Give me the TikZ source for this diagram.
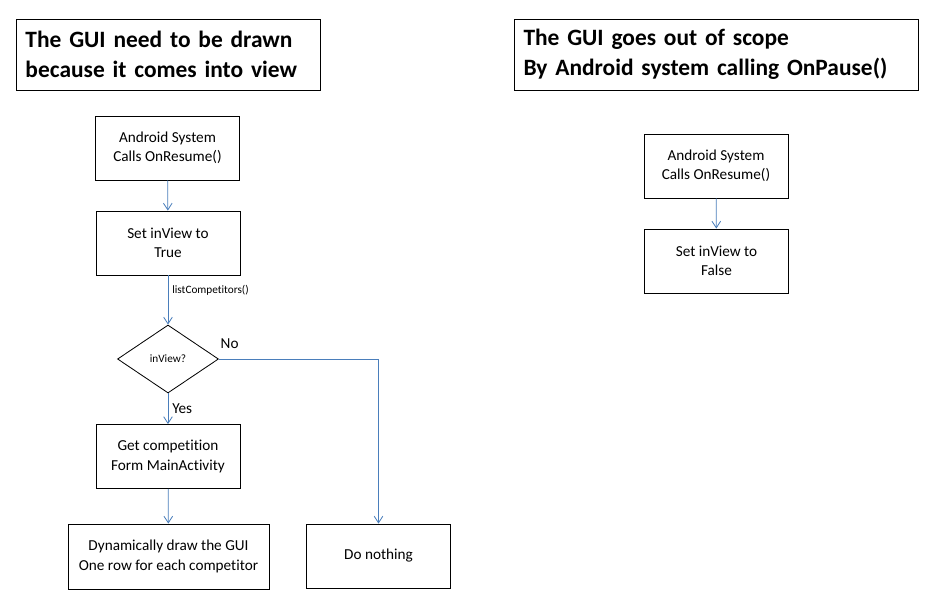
\documentclass[tikz,border=0pt]{standalone}
\usepackage{fontspec}
\setmainfont{Carlito}[Ligatures=NoCommon]
\usetikzlibrary{shapes.geometric,arrows.meta}
\definecolor{lineblue}{RGB}{74,126,187}

\begin{document}
\begin{tikzpicture}[x=0.03cm,y=-0.03cm,
		box/.style={draw,line width=0.7pt,align=center,font=\fontsize{13}{16.5}\selectfont,minimum width=4.32cm,minimum height=1.92cm,inner sep=0pt},
		titlebox/.style={draw,line width=0.8pt,align=left,font=\fontsize{20}{25.5}\selectfont\bfseries,text width=8.55cm,minimum width=9.12cm,minimum height=2.13cm,inner sep=0pt},
		flow/.style={draw=lineblue,line width=0.7pt,-{Straight Barb[length=2mm,width=2.6mm]}},
		small/.style={font=\fontsize{9.6}{11}\selectfont},
		answer/.style={font=\fontsize{13}{15}\selectfont}]
			\useasboundingbox (0,0) rectangle (932,606);
			%%%%%%%%%%%%%%%%%%%%%%%%%%%%%%%% titles
			\node[titlebox] (titleL) at (168,54.5){The GUI need to be drawn\\because it comes into view};
			\node[titlebox,text width=11.55cm,minimum width=12.12cm] (titleR) at (716,54.5){The GUI goes out of scope\\By Android system calling OnPause()};
			%%%%%%%%%%%%%%%%%%%%%%%%%%%%%%%% left flow
			\node[box] (resumeL) at (167.5,148){Android System\\Calls OnResume()};
			\node[box] (setTrue) at (168,243){Set inView to\\True};
			\node[draw,diamond,line width=0.7pt,minimum width=3.03cm,minimum height=2.04cm,inner sep=0pt,small] (check) at (168,359){inView?};
			\node[box] (getComp) at (168,456.5){Get competition\\Form MainActivity};
			\node[box,minimum width=6.03cm,minimum height=1.95cm] (drawGui) at (168.5,556.5){Dynamically draw the GUI\\One row for each competitor};
			\node[box] (nothing) at (378.5,556){Do nothing};
			%%%%%%%%%%%%%%%%%%%%%%%%%%%%%%%% right flow
			\node[box] (resumeR) at (716,166){Android System\\Calls OnResume()};
			\node[box] (setFalse) at (716.5,261){Set inView to\\False};
			%%%%%%%%%%%%%%%%%%%%%%%%%%%%%%%% connectors
			\draw[flow] (resumeL)--(setTrue);
			\draw[flow] (setTrue)--(check) node[pos=0.3,right,small]{listCompetitors()};
			\draw[flow] (check)--(getComp) node[midway,right,answer]{Yes};
			\draw[flow] (check.east)-|(nothing.north);
			\node[anchor=south west,answer] (noLabel) at ([xshift=-2pt,yshift=5pt]check.east){No};
			\draw[flow] (getComp)--(drawGui);
			\draw[flow] (resumeR)--(setFalse);
		\end{tikzpicture}
\end{document}
